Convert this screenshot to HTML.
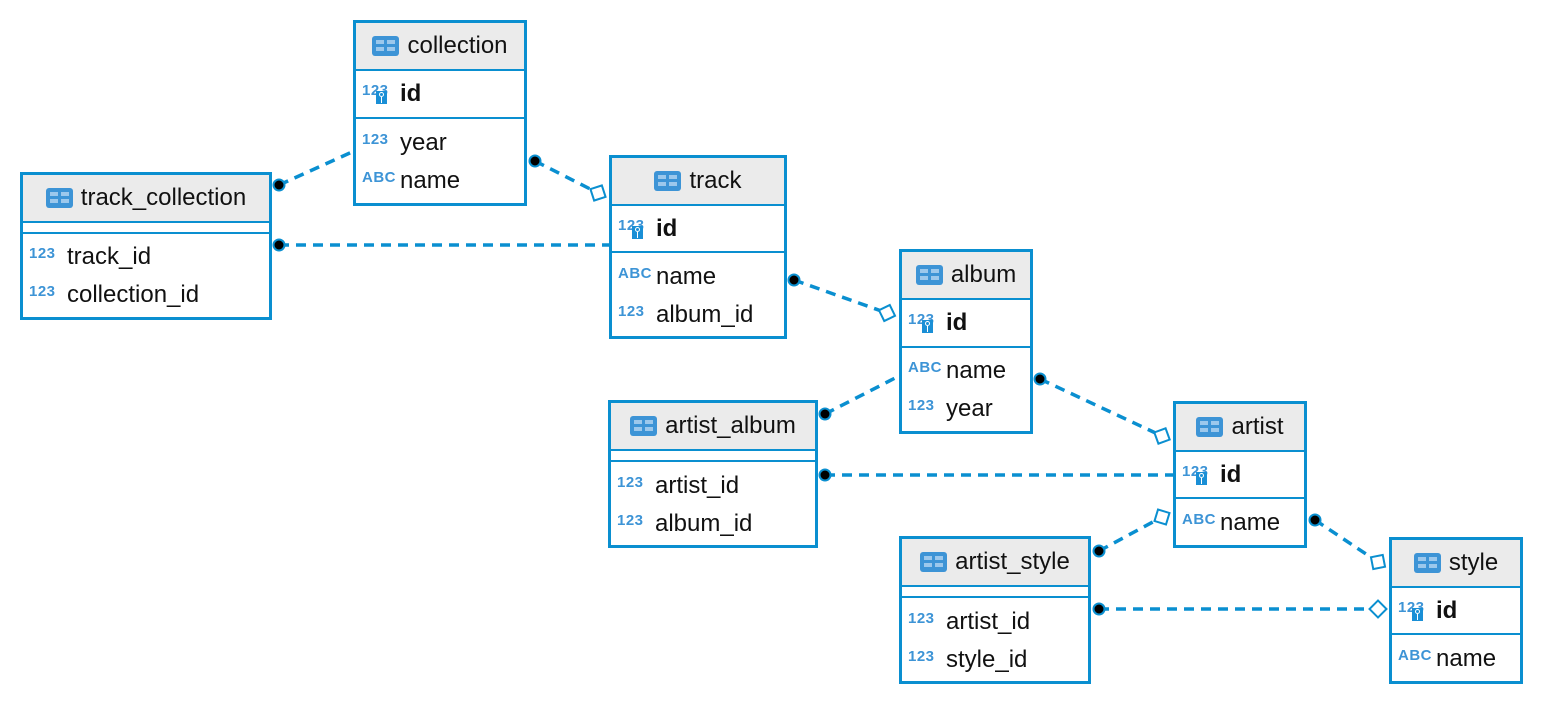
<!DOCTYPE html>
<html><head><meta charset="utf-8"><style>
body{margin:0;width:1544px;height:704px;background:#fff;position:relative;overflow:hidden;font-family:"Liberation Sans","DejaVu Sans",sans-serif;}
.t{position:absolute;box-sizing:border-box;border:3px solid #0a8fd0;background:#fff;}
.h{position:absolute;left:0;right:0;top:0;height:46px;background:#ebebeb;border-bottom:2px solid #0a8fd0;display:flex;align-items:center;justify-content:center;font-size:24px;color:#111;}
.ic{display:inline-block;width:27px;height:20px;background:#3d94d6;border-radius:3px;margin-right:8px;position:relative;}
.ic:before{content:"";position:absolute;left:4px;top:4px;width:8px;height:4px;background:#9cc8ec;box-shadow:11px 0 0 #9cc8ec,0 7px 0 #9cc8ec,11px 7px 0 #9cc8ec;}
.ln{position:absolute;left:0;right:0;height:2px;background:#0a8fd0;}
.r{position:absolute;left:0;height:30px;line-height:30px;font-size:24px;color:#111;white-space:nowrap;}
.ty{display:inline-block;width:44px;padding-left:6px;box-sizing:border-box;font-size:15px;font-weight:bold;color:#3d94d6;vertical-align:top;position:relative;top:-3px;letter-spacing:0.5px;}
.k{position:absolute;left:20px;top:15px;width:11px;height:13px;background:#1a8fd6;}
.k:before{content:"";position:absolute;left:3px;top:1px;width:3px;height:3px;border:1px solid #fff;border-radius:50%;}
.k:after{content:"";position:absolute;left:5px;top:6px;width:1px;height:6px;background:#fff;}
b{font-weight:bold;}
</style></head><body>
<svg width="1544" height="704" style="position:absolute;left:0;top:0">
<g stroke="#0a8fd0" stroke-width="3.5" stroke-dasharray="10,7" fill="none">
<line x1="279" y1="185" x2="352" y2="152"/>
<line x1="535" y1="161" x2="598" y2="193"/>
<line x1="279" y1="245" x2="609" y2="245"/>
<line x1="794" y1="280" x2="887" y2="313"/>
<line x1="825" y1="414" x2="899" y2="376"/>
<line x1="1040" y1="379" x2="1162" y2="436"/>
<line x1="825" y1="475" x2="1173" y2="475"/>
<line x1="1099" y1="551" x2="1162" y2="517"/>
<line x1="1315" y1="520" x2="1378" y2="562"/>
<line x1="1099" y1="609" x2="1378" y2="609"/>
</g>
<g fill="#000" stroke="#0a8fd0" stroke-width="2">
<circle cx="279" cy="185" r="5.5"/><circle cx="535" cy="161" r="5.5"/><circle cx="279" cy="245" r="5.5"/>
<circle cx="794" cy="280" r="5.5"/><circle cx="825" cy="414" r="5.5"/><circle cx="1040" cy="379" r="5.5"/>
<circle cx="825" cy="475" r="5.5"/><circle cx="1099" cy="551" r="5.5"/><circle cx="1315" cy="520" r="5.5"/>
<circle cx="1099" cy="609" r="5.5"/>
</g>
<g fill="#fff" stroke="#0a8fd0" stroke-width="2">
<rect x="-6" y="-6" width="12" height="12" transform="translate(598,193) rotate(72)"/>
<rect x="-6" y="-6" width="12" height="12" transform="translate(887,313) rotate(64)"/>
<rect x="-6" y="-6" width="12" height="12" transform="translate(1162,436) rotate(70)"/>
<rect x="-6" y="-6" width="12" height="12" transform="translate(1162,517) rotate(17)"/>
<rect x="-6" y="-6" width="12" height="12" transform="translate(1378,562) rotate(79)"/>
<rect x="-6" y="-6" width="12" height="12" transform="translate(1378,609) rotate(45)"/>
</g>
</svg>

<div class="t" style="left:353px;top:20px;width:174px;height:186px">
<div class="h"><span class="ic"></span>collection</div>
<div class="r" style="top:56px"><span class="ty">123<i class="k"></i></span><b>id</b></div>
<div class="ln" style="top:94px"></div>
<div class="r" style="top:105px"><span class="ty">123</span>year</div>
<div class="r" style="top:143px"><span class="ty">ABC</span>name</div>
</div>

<div class="t" style="left:20px;top:172px;width:252px;height:148px">
<div class="h"><span class="ic"></span>track_collection</div>
<div class="ln" style="top:57px"></div>
<div class="r" style="top:67px"><span class="ty">123</span>track_id</div>
<div class="r" style="top:105px"><span class="ty">123</span>collection_id</div>
</div>

<div class="t" style="left:609px;top:155px;width:178px;height:184px">
<div class="h"><span class="ic"></span>track</div>
<div class="r" style="top:56px"><span class="ty">123<i class="k"></i></span><b>id</b></div>
<div class="ln" style="top:93px"></div>
<div class="r" style="top:104px"><span class="ty">ABC</span>name</div>
<div class="r" style="top:142px"><span class="ty">123</span>album_id</div>
</div>

<div class="t" style="left:899px;top:249px;width:134px;height:185px">
<div class="h"><span class="ic"></span>album</div>
<div class="r" style="top:56px"><span class="ty">123<i class="k"></i></span><b>id</b></div>
<div class="ln" style="top:94px"></div>
<div class="r" style="top:104px"><span class="ty">ABC</span>name</div>
<div class="r" style="top:142px"><span class="ty">123</span>year</div>
</div>

<div class="t" style="left:608px;top:400px;width:210px;height:148px">
<div class="h"><span class="ic"></span>artist_album</div>
<div class="ln" style="top:57px"></div>
<div class="r" style="top:68px"><span class="ty">123</span>artist_id</div>
<div class="r" style="top:106px"><span class="ty">123</span>album_id</div>
</div>

<div class="t" style="left:1173px;top:401px;width:134px;height:147px">
<div class="h"><span class="ic"></span>artist</div>
<div class="r" style="top:56px"><span class="ty">123<i class="k"></i></span><b>id</b></div>
<div class="ln" style="top:93px"></div>
<div class="r" style="top:104px"><span class="ty">ABC</span>name</div>
</div>

<div class="t" style="left:899px;top:536px;width:192px;height:148px">
<div class="h"><span class="ic"></span>artist_style</div>
<div class="ln" style="top:57px"></div>
<div class="r" style="top:68px"><span class="ty">123</span>artist_id</div>
<div class="r" style="top:106px"><span class="ty">123</span>style_id</div>
</div>

<div class="t" style="left:1389px;top:537px;width:134px;height:147px">
<div class="h"><span class="ic"></span>style</div>
<div class="r" style="top:56px"><span class="ty">123<i class="k"></i></span><b>id</b></div>
<div class="ln" style="top:93px"></div>
<div class="r" style="top:104px"><span class="ty">ABC</span>name</div>
</div>
</body></html>
